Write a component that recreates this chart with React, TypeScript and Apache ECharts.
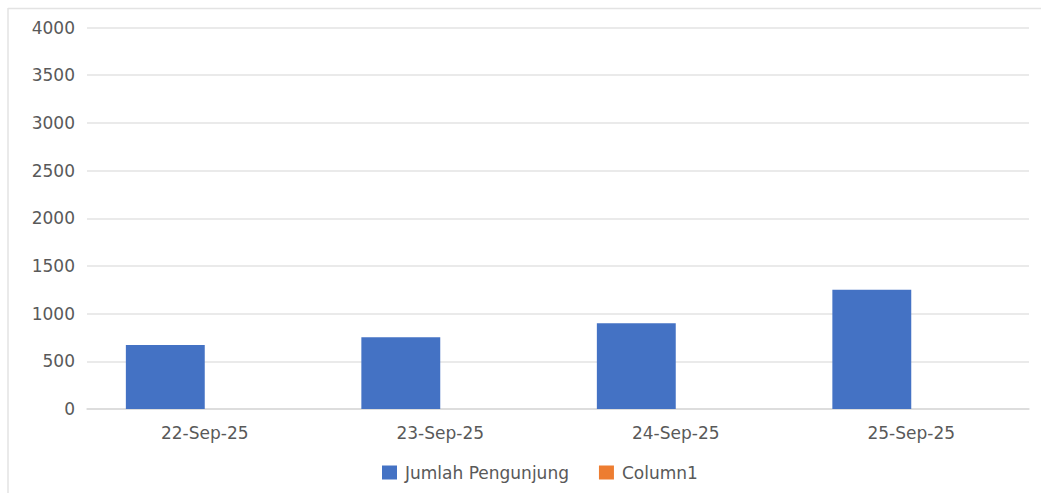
import React, { useEffect, useRef } from "react";
import * as echarts from "echarts";

const categories = ["22-Sep-25", "23-Sep-25", "24-Sep-25", "25-Sep-25"];
const visitors = [672, 753, 900, 1250];
const column1: (number | null)[] = [null, null, null, null];
const seriesNames = ["Jumlah Pengunjung", "Column1"];

export default function App() {
  const ref = useRef<HTMLDivElement>(null);
  useEffect(() => {
    document.body.style.margin = "0";
    const chart = echarts.init(ref.current!, undefined, { renderer: "svg" });
    const font = "DejaVu Sans";
    chart.setOption({
      animation: false,
      backgroundColor: "#ffffff",
      textStyle: { fontFamily: font },
      graphic: [
        { type: "line", shape: { x1: 8, y1: 8.5, x2: 1041, y2: 8.5 }, style: { stroke: "#e3e3e3", lineWidth: 1.5 } },
        { type: "line", shape: { x1: 8, y1: 8, x2: 8, y2: 493 }, style: { stroke: "#e3e3e3", lineWidth: 1.5 } },
      ],
      grid: { left: 87, right: 12, top: 27.5, bottom: 84 },
      legend: {
        left: 382,
        top: 464,
        padding: 0,
        itemWidth: 15,
        itemHeight: 14,
        itemGap: 30,
        icon: "rect",
        textStyle: { color: "#595959", fontSize: 17, fontFamily: font, padding: [0, 0, 0, 3] },
        data: seriesNames,
      },
      xAxis: {
        type: "category",
        data: categories,
        axisTick: { show: false },
        axisLine: { lineStyle: { color: "#d9d9d9", width: 1.5 } },
        axisLabel: { color: "#595959", fontSize: 17, fontFamily: font, margin: 15 },
      },
      yAxis: {
        type: "value",
        min: 0,
        max: 4000,
        interval: 500,
        axisLine: { show: false },
        axisTick: { show: false },
        splitLine: { lineStyle: { color: "#e3e3e3", width: 1.5 } },
        axisLabel: {
          color: "#595959",
          fontSize: 17,
          fontFamily: font,
          margin: 12,
          formatter: (v: number) => String(v),
        },
      },
      series: [
        {
          name: seriesNames[0],
          type: "bar",
          data: visitors,
          itemStyle: { color: "#4472C4" },
          barGap: "0%",
          barCategoryGap: "33%",
        },
        {
          name: seriesNames[1],
          type: "bar",
          data: column1,
          itemStyle: { color: "#ED7D31" },
          barGap: "0%",
          barCategoryGap: "33%",
        },
      ],
    });
    return () => chart.dispose();
  }, []);
  return <div ref={ref} style={{ width: 1041, height: 493 }} />;
}
